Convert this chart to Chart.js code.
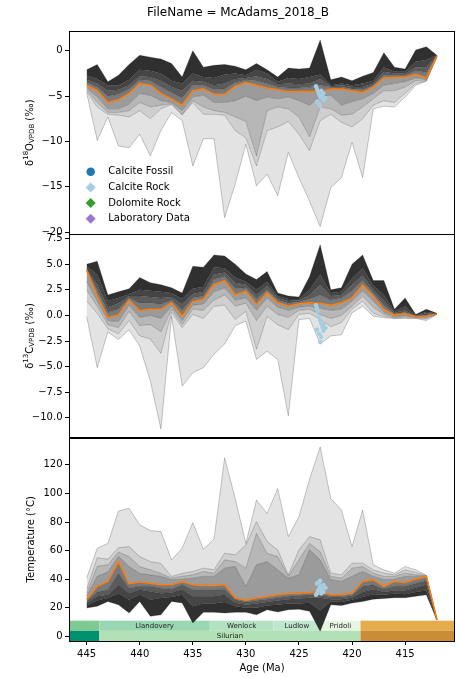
<!DOCTYPE html>
<html><head><meta charset="utf-8">
<script src="https://cdn.jsdelivr.net/npm/chart.js@4.4.1/dist/chart.umd.min.js"></script>
<style>html,body{margin:0;padding:0;background:#fff;}canvas{display:block;}</style>
</head><body>
<canvas id="c" width="459" height="678"></canvas>
<script>
const titleText = 'FileName = McAdams_2018_B';
const ages = [445,444,443,442,441,440,439,438,437,436,435,434,433,432,431,430,429,428,427,426,425,424,423,422,421,420,419,418,417,416,415,414,413,412];

// d18O percentile lines (low -> high)
const d18oMin = [-4.6,-9.9,-7.3,-10.5,-10.7,-9.2,-11.6,-8.8,-6.8,-7.7,-12.7,-9.7,-9.7,-18.4,-14.7,-10.3,-14.9,-13.6,-16.0,-11.2,-14.0,-16.6,-19.4,-15.1,-14.0,-10.1,-14.0,-6.4,-6.1,-6.2,-5.1,-3.8,-3.35,-0.7];
const d18oP05 = [-4.5,-6.2,-7.0,-7.1,-7.3,-6.6,-7.5,-6.4,-5.9,-7.1,-5.7,-7.0,-7.0,-7.1,-8.8,-9.6,-12.7,-8.8,-8.4,-7.8,-9.2,-11.0,-7.7,-7.0,-7.9,-8.4,-7.5,-6.0,-5.5,-5.7,-4.7,-3.6,-3.3,-0.65];
const d18oP16 = [-4.3,-5.7,-6.8,-6.8,-6.6,-5.7,-6.2,-6.0,-5.85,-7.0,-5.5,-6.2,-6.6,-6.8,-7.3,-7.8,-11.6,-6.6,-6.2,-6.4,-7.3,-9.5,-6.2,-6.4,-7.1,-7.0,-6.2,-5.3,-4.4,-4.4,-4.0,-3.3,-3.2,-0.6];
const d18oP25 = [-4.1,-5.1,-6.4,-6.4,-5.9,-4.7,-4.9,-5.5,-5.7,-6.6,-5.1,-4.9,-5.7,-5.7,-5.5,-5.0,-5.5,-5.1,-5.3,-5.1,-5.5,-6.0,-5.1,-4.9,-6.0,-5.6,-5.3,-4.7,-3.8,-3.6,-3.4,-3.0,-3.1,-0.6];
const d18oMed = [-3.8,-4.4,-5.7,-5.4,-4.7,-3.6,-3.8,-4.7,-5.3,-6.0,-4.4,-4.2,-4.8,-4.8,-3.9,-3.5,-3.8,-4.1,-4.3,-4.5,-4.5,-4.45,-4.5,-4.2,-4.2,-4.4,-4.6,-4.0,-3.0,-2.95,-2.9,-2.6,-3.0,-0.55];
const d18oP75 = [-3.5,-4.0,-5.0,-4.8,-4.2,-3.2,-3.3,-4.0,-4.6,-5.2,-3.8,-3.8,-4.3,-4.2,-3.5,-3.2,-3.3,-3.6,-4.0,-4.1,-4.1,-4.0,-3.8,-4.0,-4.0,-4.2,-4.3,-3.8,-2.7,-2.7,-2.7,-2.2,-2.4,-0.5];
const d18oP84 = [-3.2,-3.6,-4.4,-4.3,-3.8,-2.8,-2.9,-3.3,-4.0,-4.4,-3.3,-3.4,-3.8,-3.6,-3.1,-3.0,-2.8,-3.1,-3.7,-3.6,-3.7,-3.6,-3.1,-3.9,-3.8,-4.0,-4.0,-3.6,-2.3,-2.5,-2.5,-1.8,-1.8,-0.5];
const d18oP95 = [-2.7,-3.1,-3.8,-3.8,-3.2,-2.1,-2.2,-2.5,-3.3,-3.6,-2.5,-2.9,-3.0,-2.6,-2.5,-2.7,-2.1,-2.5,-3.4,-3.0,-3.1,-2.9,-2.6,-3.8,-3.6,-3.8,-3.6,-3.3,-1.8,-2.3,-2.3,-1.2,-1.0,-0.5];
const d18oMax = [-2.1,-1.5,-3.4,-2.7,-1.5,-0.5,-0.7,-0.9,-1.4,-2.9,0.0,-1.8,-1.6,-1.5,-1.7,-2.1,-1.4,-2.1,-2.9,-1.9,-2.0,-1.9,1.2,-3.2,-2.9,-3.3,-2.8,-2.4,-0.2,-1.8,-2.0,0.1,0.45,-0.5];

// d13C percentile lines (low -> high)
const d13cMin = [-0.1,-5.1,-1.6,-2.35,-1.4,-3.0,-6.4,-11.1,-0.1,-6.9,-5.6,-5.1,-3.8,-2.8,-1.0,-0.55,-4.3,-3.5,-4.3,-9.8,-0.4,-0.3,-2.8,-2.0,-1.9,0.26,0.9,-0.07,-0.23,-0.3,-0.3,-0.3,-0.5,0.1];
const d13cP05 = [1.4,0.2,-1.3,-1.8,-0.5,-2.0,-2.3,-3.7,0.3,-1.2,0.1,-0.3,0.9,1.0,-0.4,0.4,-3.3,-0.1,-0.9,-1.4,0.1,0.2,-0.4,-1.1,-0.7,0.6,1.4,0.2,-0.1,-0.25,-0.2,-0.25,-0.35,0.12];
const d13cP16 = [2.5,0.9,-0.9,-1.2,0.4,-1.0,-0.9,-1.6,0.6,-0.9,0.6,0.5,1.5,2.0,0.9,1.2,-0.5,0.9,0.1,-0.2,0.5,0.6,0.1,-0.3,0.0,0.9,1.9,0.8,0.1,-0.2,-0.1,-0.2,-0.25,0.13];
const d13cP25 = [3.3,1.4,-0.5,-0.6,1.0,-0.2,0.0,-0.3,0.9,-0.5,1.0,1.1,2.3,2.7,1.5,1.7,0.5,1.7,0.8,0.5,0.8,0.9,0.7,0.5,0.6,1.4,2.4,1.4,0.3,-0.1,0.0,-0.15,-0.15,0.14];
const d13cMed = [4.4,1.9,-0.2,0.05,1.5,0.45,0.6,0.6,1.25,-0.07,1.35,1.55,3.0,3.4,2.0,2.37,1.07,2.2,1.23,0.9,1.13,1.23,1.2,1.0,1.23,1.72,2.95,1.88,0.58,0.03,0.16,-0.1,-0.07,0.15];
const d13cP75 = [4.5,2.5,0.3,0.6,1.7,1.2,1.2,1.1,1.5,0.5,1.7,1.9,3.5,3.8,2.6,2.7,1.6,2.5,1.5,1.2,1.3,1.6,2.0,1.5,1.7,2.4,3.4,2.2,1.0,0.15,0.3,-0.07,0.05,0.16];
const d13cP84 = [4.6,3.0,0.8,1.2,1.9,1.9,1.8,1.7,1.8,1.1,2.1,2.3,4.0,4.2,3.2,3.0,2.0,2.9,1.7,1.4,1.45,2.0,3.0,1.9,2.0,3.0,3.9,2.5,1.4,0.25,0.5,-0.05,0.2,0.17];
const d13cP95 = [4.8,4.0,1.4,1.7,2.1,2.5,2.4,2.3,2.2,1.6,2.6,2.8,4.7,4.6,3.7,3.3,2.5,3.3,1.9,1.6,1.6,2.5,4.0,2.2,2.3,3.6,4.6,2.9,2.0,0.4,0.9,0.0,0.35,0.18];
const d13cMax = [5.0,5.3,2.0,2.3,2.6,3.7,3.2,3.0,2.7,2.2,4.8,4.7,5.9,5.8,5.0,4.05,3.5,4.3,2.2,1.9,1.8,3.8,6.9,2.5,2.7,5.0,5.9,3.4,3.4,0.6,1.7,0.1,0.6,0.2];

// Temperature lines (low -> high)
const tMin = [19.8,21,24.4,22,16.3,24.4,14,15,24.4,23.3,9.3,16.8,16.8,16.3,16.8,16.8,15,18.6,17,18.6,19,17.5,3.5,22,21.5,23.3,24.4,26,26.5,27,27,28,29,11.2];
const tLo3 = [21.5,25,26.8,30,25.6,29,25.6,26.8,27.5,29,21,23,23,24,21,20,20,21.5,22,23,23,23.5,18,24.5,24,25.5,27.5,29.5,29,30,29.5,31,32,11.3];
const tLo2 = [23,28,29,36,30.2,32.6,31.4,30.2,30.5,33,28,28,28,29,23.5,22,23,24,25,26,26.5,27,27,26,26,27,31,33,31,32,32,34,36,11.4];
const tLo1 = [24.5,31,32.6,44,33.7,35,35,33.7,33,36,32.6,32.6,32.6,33,25.5,24,25,26,27,28,28.5,29,29.5,27.5,27.5,28.5,35,36,33,35,35,37,39,11.5];
const tMed = [26,35,38.4,52.3,36.8,38,37.2,36.1,36,38.4,36,35.6,35.6,36,27,25.3,26.8,27.9,29,30,30.2,30.7,31.4,29,29,30.2,38.4,39.6,35,38.4,37.7,40,41.9,11.6];
const tHi1 = [28,42,45,56,48.8,44,43,41.9,39.6,40,40.7,41.9,41.9,47.7,48.9,34.9,50,52.3,46.5,40.7,43,60.5,53.5,39.6,38.4,41.9,45.4,41.9,39.6,40,41.9,41.9,42.0,11.6];
const tHi2 = [30,49,50,59,55.8,48.8,46.5,44,40.7,42,43,45.4,44,53.5,52.3,47.7,72,58,55.8,42,53.5,65,59.3,41.9,40.7,47.7,48.8,44.2,41.9,41.9,44.2,43,42.2,11.6];
const tHi3 = [33,55,54,62,62.8,55.8,52.3,51,41.9,44,45.4,47.7,46.5,58.2,57,64,80.2,66.3,60.5,43,60.5,69.8,67.5,44.2,43,51.2,51.2,46.5,44.2,43,46.5,44.7,42.4,11.6];
const tMax = [40.7,61.6,65,87.7,89.6,78,74,73.3,53.5,61.6,79.6,61,68,125,96.5,65,95.4,86,103.5,69.8,83.7,110,132.6,96.5,88.4,62.8,88.4,50,46.5,44.2,48.9,46.5,42.6,11.6];

// Calcite rock samples
const rockAge  = [423.4,423.3,423.2,423.1,423.0,422.9,422.8,422.7,423.3,423.1,422.9,422.7,422.5,423.0];
const rockD18O = [-3.9,-4.2,-4.5,-4.8,-5.1,-4.6,-5.0,-5.4,-5.6,-5.9,-4.4,-4.7,-5.2,-6.1];
const rockD13C = [1.0,0.7,0.4,-0.1,-0.5,-0.8,-1.1,-0.9,-1.4,-1.8,-2.1,-1.5,-1.2,-2.6];
const rockTemp = [29,30,32,33,35,32,34,36,37,38,30,31,34,39];

// ticks
const ageTicks  = [445,440,435,430,425,420,415];
const d18oTicks = [-20,-15,-10,-5,0];
const d13cTicks = [-10,-7.5,-5,-2.5,0,2.5,5,7.5];
const tempTicks = [0,20,40,60,80,100,120];

// legend
const legendLabels = ['Calcite Fossil','Calcite Rock','Dolomite Rock','Laboratory Data'];
const legendColors = ['#1f78b4','#a6cee3','#33a02c','#9a78d4'];
const legendShapes = ['circle','diamond','diamond','diamond'];

// timescale
const epochNames  = ['', 'Llandovery','Wenlock','Ludlow','Pridoli',''];
const epochStart  = [458.4, 443.8, 433.4, 427.4, 423.0, 419.2];
const epochEnd    = [443.8, 433.4, 427.4, 423.0, 419.2, 393.3];
const epochColors = ['#7FCA93','#99D7B3','#B3E1C2','#BFE6CF','#E6F5E1','#E5AC4D'];
const periodNames  = ['', 'Silurian', ''];
const periodStart  = [485.4, 443.8, 419.2];
const periodEnd    = [443.8, 419.2, 358.9];
const periodColors = ['#009270','#B3E1B6','#CB8C37'];

const greys = ['#e3e3e3','#cfcfcf','#b7b7b7','#9b9b9b','#797979','#5b5b5b','#454545','#303030'];
const FONT = '"DejaVu Sans", sans-serif';
Chart.defaults.font.family = FONT;
Chart.defaults.font.size = 10;
Chart.defaults.color = '#000';

function pts(xs, vals){ return xs.map((a,i)=>({x:a, y:vals[i]})); }
function bands(lines, colors, axis){
  return lines.map((vals,i)=>({
    type:'line', data: pts(ages, vals), yAxisID: axis,
    borderColor:'rgba(0,0,0,0.24)', borderWidth:0.9, pointRadius:0, tension:0,
    fill: i===0 ? false : '-1',
    backgroundColor: i===0 ? 'rgba(0,0,0,0)' : colors[i-1], order: 0
  }));
}
const datasets = [
  ...bands([d18oMin,d18oP05,d18oP16,d18oP25,d18oMed,d18oP75,d18oP84,d18oP95,d18oMax], greys, 'ya'),
  ...bands([d13cMin,d13cP05,d13cP16,d13cP25,d13cMed,d13cP75,d13cP84,d13cP95,d13cMax], greys, 'yb'),
  ...bands([tMin,tLo3,tLo2,tLo1,tMed,tHi1,tHi2,tHi3,tMax], greys.slice().reverse(), 'yc'),
];
[['ya',d18oMed],['yb',d13cMed],['yc',tMed]].forEach(([ax,v])=>{
  datasets.push({type:'line', data:pts(ages,v), yAxisID:ax, borderColor:'#ff7f0e', borderWidth:1.5, pointRadius:0, tension:0, fill:false, order:-1});
});
[['ya',rockD18O],['yb',rockD13C],['yc',rockTemp]].forEach(([ax,v])=>{
  datasets.push({type:'scatter', data:pts(rockAge,v), yAxisID:ax, backgroundColor:'#a6cee3', borderWidth:0, pointRadius:2.2, showLine:false, order:-2});
});

const fmt = (v,d)=> (v<0?'\u2212':'') + Math.abs(v).toFixed(d);
function yAxis(weight, min, max, ticks, dec){
  return {
    type:'linear', position:'left', stack:'v', stackWeight:1, weight, min, max,
    afterBuildTicks: s => { s.ticks = ticks.map(v=>({value:v})); },
    afterFit: s => { s.width = 69; },
    ticks:{ callback: v => fmt(v,dec), padding:2.5, font:{size:10}, color:'#000', autoSkip:false },
    grid:{ drawOnChartArea:false, drawTicks:true, tickLength:4, color:'#000' },
    border:{ display:false }
  };
}

function drawRich(ctx, parts, x, y){
  ctx.save(); ctx.translate(x,y); ctx.rotate(-Math.PI/2);
  let total = 0;
  parts.forEach(p=>{ ctx.font = p.s+'px '+FONT; p.w = ctx.measureText(p.t).width; total += p.w; });
  let cx = -total/2;
  ctx.textAlign='left'; ctx.textBaseline='middle'; ctx.fillStyle='#000';
  parts.forEach(p=>{ ctx.font = p.s+'px '+FONT; ctx.fillText(p.t, cx, p.dy||0); cx += p.w; });
  ctx.restore();
}

const decor = {
  id:'decor',
  beforeDraw(chart){
    const {ctx, chartArea:a} = chart; const xs = chart.scales.x; const yc = chart.scales.yc;
    const h = yc.bottom - yc.top;
    const rows = [
      {n:epochNames, s:epochStart, e:epochEnd, c:epochColors, top:yc.bottom-0.1*h, bot:yc.bottom-0.05*h},
      {n:periodNames, s:periodStart, e:periodEnd, c:periodColors, top:yc.bottom-0.05*h, bot:yc.bottom}
    ];
    ctx.save(); ctx.beginPath(); ctx.rect(a.left, yc.top, a.right-a.left, h); ctx.clip();
    rows.forEach(r=>r.n.forEach((nm,i)=>{
      const x1 = xs.getPixelForValue(r.s[i]), x2 = xs.getPixelForValue(r.e[i]);
      ctx.fillStyle = r.c[i]; ctx.fillRect(Math.min(x1,x2), r.top, Math.abs(x2-x1), r.bot-r.top);
    }));
    ctx.font = '7px '+FONT; ctx.fillStyle='#222'; ctx.textAlign='center'; ctx.textBaseline='middle';
    rows.forEach(r=>r.n.forEach((nm,i)=>{
      const mid = (r.s[i]+r.e[i])/2;
      if(!nm || mid > xs.max || mid < xs.min) return;
      ctx.fillText(nm, xs.getPixelForValue(mid), (r.top+r.bot)/2+0.5);
    }));
    ctx.restore();
  },
  afterDraw(chart){
    const {ctx, chartArea:a} = chart;
    const ya = chart.scales.ya, yb = chart.scales.yb, yc = chart.scales.yc;
    ctx.save();
    ctx.strokeStyle='#000'; ctx.lineWidth=1;
    [ya,yb,yc].forEach(s=>{ ctx.strokeRect(Math.round(a.left)+0.5, Math.round(s.top)+0.5, Math.round(a.right-a.left)-1, Math.round(s.bottom-s.top)); });
    ctx.font = '12px '+FONT; ctx.fillStyle='#000'; ctx.textAlign='center'; ctx.textBaseline='middle';
    ctx.fillText(titleText, 238, 13);
    drawRich(ctx, [{t:'\u03b4',s:10},{t:'18',s:7,dy:-3.5},{t:'O',s:10},{t:'VPDB',s:7,dy:2.5},{t:' (\u2030)',s:10}], 30, (ya.top+ya.bottom)/2);
    drawRich(ctx, [{t:'\u03b4',s:10},{t:'13',s:7,dy:-3.5},{t:'C',s:10},{t:'VPDB',s:7,dy:2.5},{t:' (\u2030)',s:10}], 30, (yb.top+yb.bottom)/2);
    drawRich(ctx, [{t:'Temperature (\u00b0C)',s:10}], 31.5, (yc.top+yc.bottom)/2);
    legendLabels.forEach((lab,i)=>{
      const cy = ya.top + 140.7 + i*15.7, cx = a.left + 21.7;
      ctx.fillStyle = legendColors[i];
      ctx.beginPath();
      if(legendShapes[i]==='circle'){ ctx.arc(cx, cy, 4.3, 0, Math.PI*2); }
      else { ctx.moveTo(cx, cy-5); ctx.lineTo(cx+5, cy); ctx.lineTo(cx, cy+5); ctx.lineTo(cx-5, cy); ctx.closePath(); }
      ctx.fill();
      ctx.fillStyle='#000'; ctx.font='10px '+FONT; ctx.textAlign='left'; ctx.textBaseline='middle';
      ctx.fillText(lab, a.left + 39.3, cy);
    });
    ctx.restore();
  }
};

new Chart(document.getElementById('c'), {
  type:'line',
  data:{ datasets },
  options:{
    responsive:false, animation:false, devicePixelRatio:1,
    layout:{ padding:{ top:31, right:2, left:0, bottom:0 } },
    plugins:{ legend:{display:false}, tooltip:{enabled:false}, filler:{drawTime:'beforeDatasetsDraw'} },
    scales:{
      x:{ type:'linear', reverse:true, min:410.3, max:446.66, position:'bottom',
          afterBuildTicks: s => { s.ticks = ageTicks.map(v=>({value:v})); },
          afterFit: s => { s.height = 37; },
          ticks:{ callback: v => String(v), maxRotation:0, padding:3, color:'#000', autoSkip:false },
          grid:{ drawOnChartArea:false, drawTicks:true, tickLength:4, color:'#000' },
          border:{ display:false },
          title:{ display:true, text:'Age (Ma)', color:'#000', font:{size:10}, padding:{top:4,bottom:4} } },
      ya: yAxis(3, -20.25, 2.19, d18oTicks, 0),
      yb: yAxis(2, -11.94, 7.92, d13cTicks, 1),
      yc: yAxis(1, -3.3, 139.05, tempTicks, 0)
    }
  },
  plugins:[decor]
});
</script>
</body></html>
